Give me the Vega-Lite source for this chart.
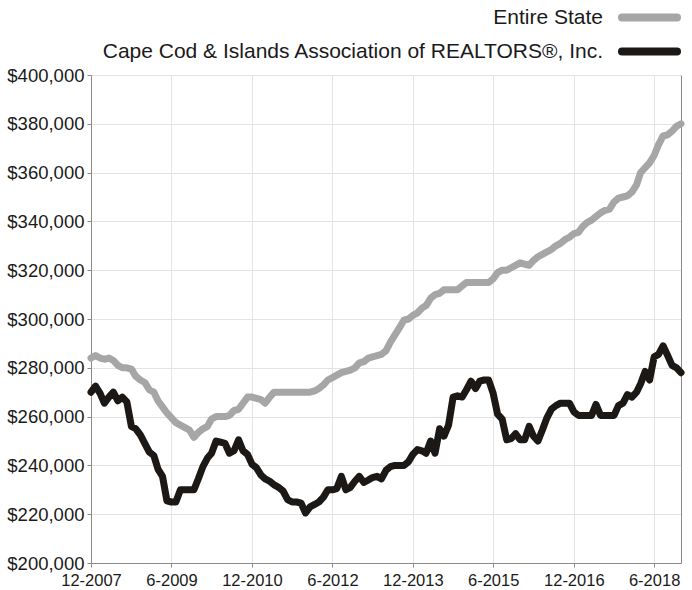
{
  "$schema": "https://vega.github.io/schema/vega-lite/v6.json",
  "width": 590,
  "height": 488,
  "autosize": {"type": "none"},
  "padding": {"left": 91, "top": 75, "right": 11, "bottom": 27},
  "background": "white",
  "config": {
    "view": {"stroke": null},
    "font": "Liberation Sans",
    "axisX": {
      "labelFontSize": 16.5, "labelColor": "#1a1a1a", "labelPadding": 5,
      "tickSize": 4, "tickColor": "#8a8a8a", "domainColor": "#8a8a8a",
      "gridColor": "#e3e3e3", "labelFlush": false, "labelOverlap": false
    },
    "axisY": {
      "labelFontSize": 18.5, "labelColor": "#1a1a1a", "labelPadding": 3,
      "tickSize": 4, "tickColor": "#8a8a8a", "domainColor": "#8a8a8a",
      "gridColor": "#e3e3e3"
    }
  },
  "data": {"values": [
    {"d":"2007-12-01","s":284000,"c":270000},
    {"d":"2008-01-01","s":285000,"c":272500},
    {"d":"2008-02-01","s":284000,"c":269500},
    {"d":"2008-03-01","s":283500,"c":265500},
    {"d":"2008-04-01","s":284000,"c":268000},
    {"d":"2008-05-01","s":283000,"c":270000},
    {"d":"2008-06-01","s":281000,"c":266500},
    {"d":"2008-07-01","s":280000,"c":268000},
    {"d":"2008-08-01","s":280000,"c":266000},
    {"d":"2008-09-01","s":279500,"c":256000},
    {"d":"2008-10-01","s":276500,"c":255000},
    {"d":"2008-11-01","s":275000,"c":252500},
    {"d":"2008-12-01","s":274000,"c":249000},
    {"d":"2009-01-01","s":271000,"c":245500},
    {"d":"2009-02-01","s":270000,"c":244000},
    {"d":"2009-03-01","s":266500,"c":238500},
    {"d":"2009-04-01","s":264000,"c":235500},
    {"d":"2009-05-01","s":261500,"c":225500},
    {"d":"2009-06-01","s":259500,"c":225000},
    {"d":"2009-07-01","s":257500,"c":225000},
    {"d":"2009-08-01","s":256500,"c":230000},
    {"d":"2009-09-01","s":255500,"c":230000},
    {"d":"2009-10-01","s":254500,"c":230000},
    {"d":"2009-11-01","s":251500,"c":230000},
    {"d":"2009-12-01","s":253500,"c":234500},
    {"d":"2010-01-01","s":255000,"c":239500},
    {"d":"2010-02-01","s":256000,"c":243000},
    {"d":"2010-03-01","s":259000,"c":245000},
    {"d":"2010-04-01","s":260000,"c":250000},
    {"d":"2010-05-01","s":260000,"c":249500},
    {"d":"2010-06-01","s":260000,"c":249000},
    {"d":"2010-07-01","s":260500,"c":245000},
    {"d":"2010-08-01","s":262500,"c":246000},
    {"d":"2010-09-01","s":263000,"c":250500},
    {"d":"2010-10-01","s":265500,"c":246000},
    {"d":"2010-11-01","s":268000,"c":244500},
    {"d":"2010-12-01","s":268000,"c":240500},
    {"d":"2011-01-01","s":267500,"c":239000},
    {"d":"2011-02-01","s":267000,"c":236000},
    {"d":"2011-03-01","s":265500,"c":234500},
    {"d":"2011-04-01","s":268000,"c":233500},
    {"d":"2011-05-01","s":270000,"c":232000},
    {"d":"2011-06-01","s":270000,"c":231000},
    {"d":"2011-07-01","s":270000,"c":229500},
    {"d":"2011-08-01","s":270000,"c":226000},
    {"d":"2011-09-01","s":270000,"c":225000},
    {"d":"2011-10-01","s":270000,"c":225000},
    {"d":"2011-11-01","s":270000,"c":224500},
    {"d":"2011-12-01","s":270000,"c":220500},
    {"d":"2012-01-01","s":270000,"c":223000},
    {"d":"2012-02-01","s":270500,"c":224000},
    {"d":"2012-03-01","s":271500,"c":225000},
    {"d":"2012-04-01","s":273000,"c":227000},
    {"d":"2012-05-01","s":275000,"c":230000},
    {"d":"2012-06-01","s":276000,"c":230000},
    {"d":"2012-07-01","s":277000,"c":230500},
    {"d":"2012-08-01","s":278000,"c":235500},
    {"d":"2012-09-01","s":278500,"c":230000},
    {"d":"2012-10-01","s":279000,"c":231000},
    {"d":"2012-11-01","s":280000,"c":233500},
    {"d":"2012-12-01","s":282000,"c":235500},
    {"d":"2013-01-01","s":282500,"c":233000},
    {"d":"2013-02-01","s":284000,"c":234000},
    {"d":"2013-03-01","s":284500,"c":235000},
    {"d":"2013-04-01","s":285000,"c":235500},
    {"d":"2013-05-01","s":285500,"c":234500},
    {"d":"2013-06-01","s":287000,"c":238000},
    {"d":"2013-07-01","s":290500,"c":239500},
    {"d":"2013-08-01","s":293500,"c":240000},
    {"d":"2013-09-01","s":296500,"c":240000},
    {"d":"2013-10-01","s":299500,"c":240000},
    {"d":"2013-11-01","s":300000,"c":241500},
    {"d":"2013-12-01","s":301500,"c":244500},
    {"d":"2014-01-01","s":302500,"c":246500},
    {"d":"2014-02-01","s":304500,"c":246000},
    {"d":"2014-03-01","s":305500,"c":245000},
    {"d":"2014-04-01","s":308500,"c":250000},
    {"d":"2014-05-01","s":310000,"c":245000},
    {"d":"2014-06-01","s":310500,"c":255000},
    {"d":"2014-07-01","s":312000,"c":252000},
    {"d":"2014-08-01","s":312000,"c":256500},
    {"d":"2014-09-01","s":312000,"c":268000},
    {"d":"2014-10-01","s":312000,"c":268500},
    {"d":"2014-11-01","s":313500,"c":268000},
    {"d":"2014-12-01","s":315000,"c":271000},
    {"d":"2015-01-01","s":315000,"c":274500},
    {"d":"2015-02-01","s":315000,"c":271500},
    {"d":"2015-03-01","s":315000,"c":274500},
    {"d":"2015-04-01","s":315000,"c":275000},
    {"d":"2015-05-01","s":315000,"c":275000},
    {"d":"2015-06-01","s":316500,"c":269500},
    {"d":"2015-07-01","s":319000,"c":261000},
    {"d":"2015-08-01","s":320000,"c":259000},
    {"d":"2015-09-01","s":320000,"c":250500},
    {"d":"2015-10-01","s":321000,"c":251000},
    {"d":"2015-11-01","s":322000,"c":253000},
    {"d":"2015-12-01","s":323000,"c":250500},
    {"d":"2016-01-01","s":322500,"c":250500},
    {"d":"2016-02-01","s":322000,"c":256000},
    {"d":"2016-03-01","s":324000,"c":252000},
    {"d":"2016-04-01","s":325500,"c":250000},
    {"d":"2016-05-01","s":326500,"c":254500},
    {"d":"2016-06-01","s":327500,"c":259500},
    {"d":"2016-07-01","s":328500,"c":263000},
    {"d":"2016-08-01","s":330000,"c":264500},
    {"d":"2016-09-01","s":331000,"c":265500},
    {"d":"2016-10-01","s":332500,"c":265500},
    {"d":"2016-11-01","s":333500,"c":265500},
    {"d":"2016-12-01","s":335000,"c":262000},
    {"d":"2017-01-01","s":335500,"c":260500},
    {"d":"2017-02-01","s":338000,"c":260500},
    {"d":"2017-03-01","s":339500,"c":260500},
    {"d":"2017-04-01","s":340500,"c":260500},
    {"d":"2017-05-01","s":342000,"c":265000},
    {"d":"2017-06-01","s":343500,"c":260500},
    {"d":"2017-07-01","s":344500,"c":260500},
    {"d":"2017-08-01","s":345000,"c":260500},
    {"d":"2017-09-01","s":348000,"c":260500},
    {"d":"2017-10-01","s":349500,"c":264500},
    {"d":"2017-11-01","s":350000,"c":265500},
    {"d":"2017-12-01","s":350500,"c":269000},
    {"d":"2018-01-01","s":352000,"c":268000},
    {"d":"2018-02-01","s":355000,"c":270000},
    {"d":"2018-03-01","s":360000,"c":273500},
    {"d":"2018-04-01","s":362000,"c":278500},
    {"d":"2018-05-01","s":364000,"c":275000},
    {"d":"2018-06-01","s":367000,"c":284500},
    {"d":"2018-07-01","s":371500,"c":285500},
    {"d":"2018-08-01","s":375000,"c":289000},
    {"d":"2018-09-01","s":375500,"c":285000},
    {"d":"2018-10-01","s":377000,"c":281000},
    {"d":"2018-11-01","s":379000,"c":280000},
    {"d":"2018-12-01","s":380000,"c":278000}
  ]},
  "transform": [{"fold": ["s", "c"], "as": ["series", "value"]}],
  "layer": [
    {
      "mark": {"type": "line", "strokeWidth": 7, "strokeJoin": "round", "strokeCap": "round"},
      "encoding": {
        "x": {
          "field": "d", "type": "temporal",
          "scale": {"type": "utc", "domain": [{"year": 2007, "month": 12, "date": 1, "utc": true}, {"year": 2018, "month": 12, "date": 1, "utc": true}]},
          "axis": {
            "title": null, "grid": true,
            "labelExpr": "utcFormat(datum.value, '%-m-%Y')",
            "values": [
              {"year": 2007, "month": 12, "date": 1, "utc": true},
              {"year": 2009, "month": 6, "date": 1, "utc": true},
              {"year": 2010, "month": 12, "date": 1, "utc": true},
              {"year": 2012, "month": 6, "date": 1, "utc": true},
              {"year": 2013, "month": 12, "date": 1, "utc": true},
              {"year": 2015, "month": 6, "date": 1, "utc": true},
              {"year": 2016, "month": 12, "date": 1, "utc": true},
              {"year": 2018, "month": 6, "date": 1, "utc": true}
            ]
          }
        },
        "y": {
          "field": "value", "type": "quantitative",
          "scale": {"domain": [200000, 400000], "nice": false, "zero": false},
          "axis": {
            "title": null, "format": "$,.0f", "grid": true,
            "values": [200000, 220000, 240000, 260000, 280000, 300000, 320000, 340000, 360000, 380000, 400000]
          }
        },
        "color": {
          "field": "series", "type": "nominal",
          "scale": {"domain": ["s", "c"], "range": ["#a6a6a6", "#1b1816"]},
          "legend": {
            "title": null, "orient": "none", "legendX": 548, "legendY": -68,
            "padding": 0, "symbolType": "M-5.5,0H5.5", "symbolSize": 100, "symbolStrokeWidth": 8,
            "labelFontSize": 21, "labelColor": "#1a1a1a", "labelAlign": "right", "labelOffset": -57,
            "labelLimit": 700, "rowPadding": 1,
            "labelExpr": "datum.value == 's' ? 'Entire State' : 'Cape Cod & Islands Association of REALTORS®, Inc.'",
            "encode": {"symbols": {"update": {"strokeCap": {"value": "round"}, "fill": {"value": "transparent"}}}}
          }
        }
      }
    },
    {
      "mark": {"type": "line", "opacity": 0},
      "encoding": {
        "x": {
          "field": "d", "type": "temporal",
          "axis": {
            "title": null, "grid": true,
            "labelExpr": "utcFormat(datum.value, '%-m-%Y')",
            "values": [
              {"year": 2007, "month": 12, "date": 1, "utc": true},
              {"year": 2009, "month": 6, "date": 1, "utc": true},
              {"year": 2010, "month": 12, "date": 1, "utc": true},
              {"year": 2012, "month": 6, "date": 1, "utc": true},
              {"year": 2013, "month": 12, "date": 1, "utc": true},
              {"year": 2015, "month": 6, "date": 1, "utc": true},
              {"year": 2016, "month": 12, "date": 1, "utc": true},
              {"year": 2018, "month": 6, "date": 1, "utc": true}
            ]
          }
        },
        "y": {
          "field": "value", "type": "quantitative",
          "axis": {"orient": "right", "labels": false, "ticks": false, "grid": false, "title": null, "domainColor": "#8a8a8a"}
        },
        "detail": {"field": "series"}
      }
    }
  ],
  "resolve": {"axis": {"y": "independent"}}
}
